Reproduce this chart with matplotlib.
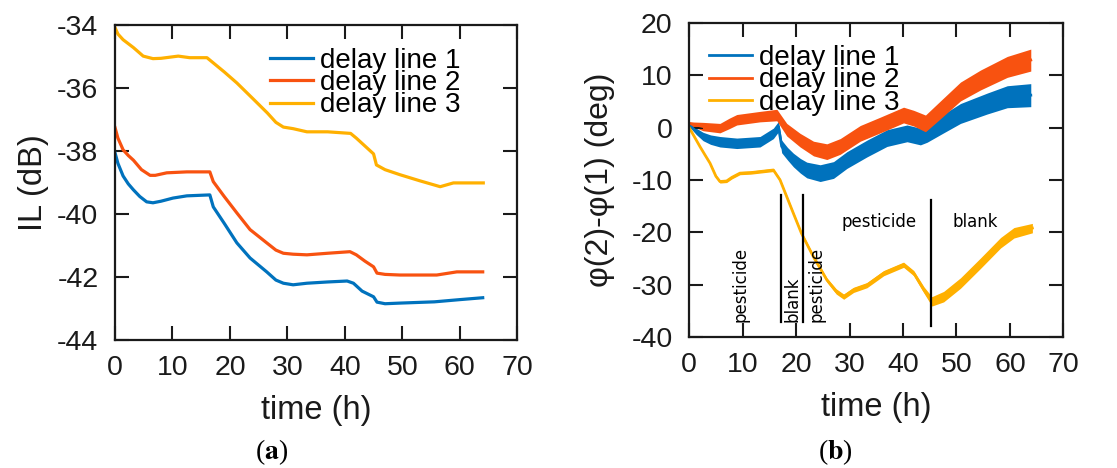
import matplotlib
matplotlib.use("Agg")
import matplotlib.pyplot as plt
import numpy as np

# ---------------- data: panel (a) insertion loss (dB) ----------------
t_a1 = [0, 0.5, 1.4, 2.3, 3.2, 4.3, 5.5, 6.6, 8.0, 10.1, 12.5, 16.5, 17.1, 19.0, 21.2, 23.5, 26.4, 28.0, 29.3, 31.0, 33.4, 37.0, 40.4, 41.5, 43.0, 45.0, 45.6, 47.0, 49.6, 55.6, 60.0, 64.0]
il_1 = [-38.07, -38.4, -38.8, -39.05, -39.24, -39.45, -39.62, -39.65, -39.6, -39.5, -39.43, -39.4, -39.78, -40.3, -40.92, -41.4, -41.84, -42.1, -42.2, -42.25, -42.2, -42.16, -42.13, -42.2, -42.45, -42.63, -42.8, -42.85, -42.83, -42.79, -42.72, -42.66]

t_a2 = [0, 0.5, 1.4, 2.3, 3.2, 4.6, 6.1, 7.0, 9.0, 12.5, 16.5, 17.1, 19.0, 21.2, 23.5, 26.4, 28.0, 29.3, 31.0, 33.4, 37.0, 40.9, 42.0, 43.5, 45.0, 45.6, 47.0, 49.6, 56.0, 59.5, 64.0]
il_2 = [-37.27, -37.6, -37.97, -38.15, -38.3, -38.6, -38.78, -38.78, -38.7, -38.67, -38.67, -38.98, -39.45, -39.97, -40.5, -40.92, -41.15, -41.25, -41.28, -41.3, -41.25, -41.2, -41.3, -41.5, -41.68, -41.88, -41.92, -41.94, -41.94, -41.84, -41.84]

t_a3 = [0, 0.5, 1.4, 3.2, 4.9, 6.6, 8.0, 11.0, 13.0, 16.0, 17.0, 19.0, 21.2, 24.0, 26.5, 28.0, 29.3, 31.0, 33.4, 37.0, 41.0, 42.0, 43.5, 45.0, 45.5, 47.0, 49.6, 53.0, 56.6, 58.9, 64.1]
il_3 = [-34.1, -34.3, -34.48, -34.73, -35.0, -35.08, -35.07, -35.0, -35.05, -35.05, -35.2, -35.5, -35.85, -36.35, -36.8, -37.1, -37.25, -37.3, -37.4, -37.4, -37.45, -37.6, -37.85, -38.1, -38.45, -38.6, -38.76, -38.95, -39.14, -39.02, -39.02]

# ---------------- data: panel (b) phase difference (deg) ----------------
t_b1 = [0, 1.3, 2.6, 4.0, 5.75, 8.9, 13.25, 15.75, 16.7, 17.3, 18.4, 19.5, 20.8, 22.0, 24.5, 27.0, 29.5, 33.25, 37.0, 40.75, 43.25, 44.5, 47.6, 50.75, 55.75, 59.5, 63.9]
ph_1 = [0.5, -0.7, -1.7, -2.3, -2.7, -3.0, -2.7, -1.1, 0.2, -3.6, -5.0, -6.2, -7.3, -8.1, -8.7, -8.1, -6.2, -4.0, -2.0, -1.1, -1.7, -1.1, 0.8, 2.7, 4.6, 5.9, 6.2]
nz_1 = [0.3, 0.6, 0.8, 0.9, 1.0, 1.0, 1.0, 1.0, 1.0, 1.2, 1.2, 1.3, 1.4, 1.5, 1.6, 1.6, 1.6, 1.6, 1.6, 1.6, 1.6, 1.7, 1.8, 1.9, 2.0, 2.1, 2.2]

t_b2 = [0, 2.6, 5.75, 7.5, 8.9, 13.25, 16.4, 18.25, 20.75, 23.25, 25.75, 28.25, 32.0, 35.75, 40.1, 42.0, 44.2, 47.0, 50.75, 54.5, 59.5, 63.9]
ph_2 = [0.8, 0.2, -0.1, 0.8, 1.5, 2.1, 2.4, -0.4, -2.4, -4.0, -4.6, -3.6, -1.1, 0.5, 2.4, 1.8, 0.8, 3.4, 6.9, 9.1, 11.6, 12.9]
nz_2 = [0.3, 0.8, 0.9, 1.0, 1.0, 1.0, 1.1, 1.2, 1.3, 1.4, 1.5, 1.5, 1.5, 1.5, 1.5, 1.5, 1.6, 1.7, 1.8, 1.9, 2.0, 2.1]

t_b3 = [0, 1.0, 2.0, 3.0, 3.9, 5.0, 5.75, 7.0, 8.0, 9.5, 11.5, 13.2, 15.75, 17.0, 18.25, 19.5, 21.0, 23.25, 25.75, 27.5, 28.9, 30.75, 33.25, 36.4, 40.1, 42.0, 43.9, 45.4, 47.6, 50.75, 54.5, 58.25, 60.75, 64.2]
ph_3 = [0.0, -1.8, -3.6, -5.3, -6.8, -9.3, -10.3, -10.2, -9.5, -8.7, -8.6, -8.4, -8.1, -10.0, -13.2, -16.4, -20.2, -24.7, -29.1, -31.3, -32.3, -31.0, -30.1, -27.8, -26.2, -27.8, -31.0, -33.2, -32.3, -29.7, -25.9, -22.0, -20.1, -19.2]
nz_3 = [0.2, 0.2, 0.2, 0.2, 0.2, 0.3, 0.3, 0.3, 0.3, 0.3, 0.3, 0.3, 0.3, 0.3, 0.3, 0.3, 0.3, 0.4, 0.4, 0.5, 0.5, 0.5, 0.5, 0.5, 0.5, 0.5, 0.6, 0.9, 1.0, 1.0, 1.0, 1.0, 1.0, 0.9]

labels = ["delay line 1", "delay line 2", "delay line 3"]
colors = ["#0072BD", "#F85210", "#FFB000"]

# event markers (h) in panel (b)
event_short = [17.2, 21.2]
event_long = [45.3]

plt.rcParams['font.family'] = ['Liberation Sans', 'DejaVu Sans']
plt.rcParams['mathtext.fontset'] = 'stix'
INK = '#1a1a1a'

fig = plt.figure(figsize=(11.17, 4.68), dpi=100)
ax1 = fig.add_axes([0.103, 0.2735, 0.360, 0.674])
ax2 = fig.add_axes([0.617, 0.280, 0.335, 0.671])

def style(ax):
    ax.tick_params(direction='in', length=10, width=1.5, top=True, right=True,
                   labelsize=20.5, colors=INK)
    ax.tick_params(axis='x', pad=11)
    ax.tick_params(axis='y', pad=12)
    for s in ax.spines.values():
        s.set_linewidth(1.6)
        s.set_color(INK)

leg_kw = dict(loc='upper left', frameon=False, fontsize=20, labelspacing=-0.13,
              handlelength=1.55, handletextpad=0.25, borderpad=0, borderaxespad=0)

# ---- panel (a)
for tt, yy, c, lb in zip([t_a1, t_a2, t_a3], [il_1, il_2, il_3], colors, labels):
    ax1.plot(tt, yy, color=c, lw=2.3, label=lb)
ax1.set_xlim(0, 70)
ax1.set_ylim(-44, -34)
ax1.set_xticks(range(0, 71, 10))
ax1.set_yticks(range(-44, -33, 2))
ax1.set_yticklabels([str(v) for v in range(-44, -33, 2)])
style(ax1)
ax1.set_xlabel("time (h)", fontsize=23.5, labelpad=10, color=INK)
ax1.set_ylabel("IL (dB)", fontsize=23.5, labelpad=6, color=INK)
ax1.legend(bbox_to_anchor=(0.386, 0.927), **leg_kw)

# ---- panel (b)
for tt, yy, nz, c, lb in zip([t_b1, t_b2, t_b3], [ph_1, ph_2, ph_3], [nz_1, nz_2, nz_3], colors, labels):
    yy = np.array(yy); nz = np.array(nz)
    ax2.fill_between(tt, yy - nz, yy + nz, color=c, lw=0)
    ax2.plot(tt, yy, color=c, lw=2.0, label=lb)
ax2.set_xlim(0, 70)
ax2.set_ylim(-40, 20)
ax2.set_xticks(range(0, 71, 10))
ax2.set_yticks(range(-40, 21, 10))
ax2.set_yticklabels([str(v) for v in range(-40, 21, 10)])
style(ax2)
ax2.set_xlabel("time (h)", fontsize=23.5, labelpad=10, color=INK)
ax2.set_ylabel("\u03c6(2)-\u03c6(1) (deg)", fontsize=23, labelpad=12, color=INK)
ax2.legend(bbox_to_anchor=(0.053, 0.930), **leg_kw)

for x in event_short:
    ax2.plot([x, x], [-12.9, -37.1], color='black', lw=1.6)
for x in event_long:
    ax2.plot([x, x], [-13.9, -37.9], color='black', lw=1.6)

ann = dict(fontsize=12, color='black', family='DejaVu Sans')
ax2.text(9.6, -37.1, "pesticide", rotation=90, ha='center', va='bottom', **ann)
ax2.text(19.3, -37.1, "blank", rotation=90, ha='center', va='bottom', **ann)
ax2.text(23.9, -37.1, "pesticide", rotation=90, ha='center', va='bottom', **ann)
ax2.text(35.6, -18.0, "pesticide", ha='center', va='center', **ann)
ax2.text(53.6, -18.0, "blank", ha='center', va='center', **ann)

fig.text(272 / 1117, 1 - 452 / 468, r"($\mathbf{a}$)", ha='center', va='center',
         fontsize=20, family='Liberation Serif')
fig.text(835 / 1117, 1 - 452 / 468, r"($\mathbf{b}$)", ha='center', va='center',
         fontsize=20, family='Liberation Serif')

fig.savefig("out.png", dpi=100)
